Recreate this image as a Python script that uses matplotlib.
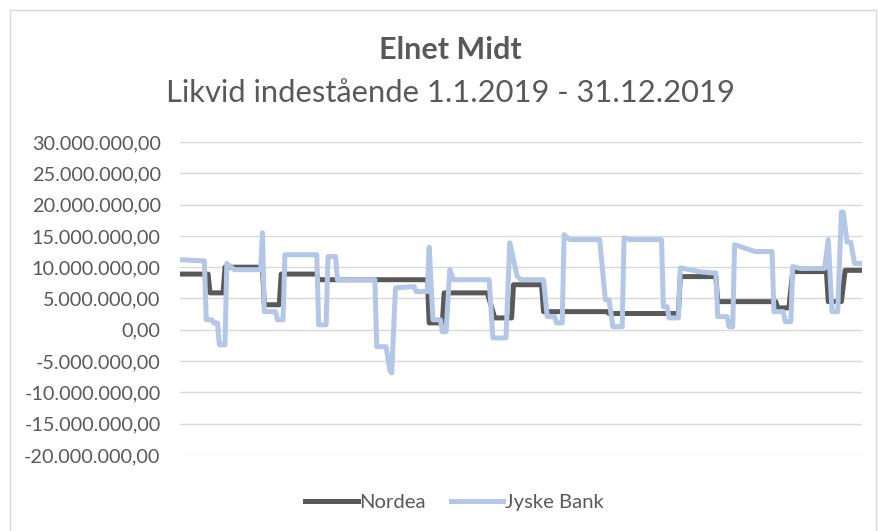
import matplotlib.pyplot as plt
from matplotlib.ticker import FuncFormatter, MultipleLocator
from matplotlib.patches import Rectangle

plt.rcParams['font.family'] = ['Lato', 'DejaVu Sans']

title = "Elnet Midt"
subtitle = "Likvid indestående 1.1.2019 - 31.12.2019"

# day of year, balance in DKK
nordea_day = [0, 15, 16, 23, 24, 44, 45, 53, 54, 73, 74, 132, 133, 140, 141, 164,
              168, 177, 178, 193, 194, 228, 229, 266, 267, 286, 287, 318, 319, 325,
              327, 345, 346, 353, 355, 364]
nordea_val = [8.9, 8.9, 5.9, 5.9, 10.0, 10.0, 4.0, 4.0, 8.9, 8.9, 8.0, 8.0, 1.1, 1.1, 5.9, 5.9,
              1.9, 1.9, 7.2, 7.2, 2.9, 2.9, 2.6, 2.6, 8.5, 8.5, 4.5, 4.5, 3.5, 3.5,
              9.3, 9.3, 4.5, 4.5, 9.5, 9.5]

jyske_day = [0, 13, 14, 17, 18, 20, 21, 24, 25, 29, 43, 44, 45, 51, 52, 55, 56, 73, 74,
             78, 79, 83, 84, 104, 105, 110, 112, 113, 115, 125, 126, 132, 133, 135, 139,
             140, 142, 144, 146, 165, 167, 174, 176, 180, 182, 194, 196, 200, 201, 204,
             205, 208, 224, 227, 229, 231, 236, 237, 240, 257, 258, 260, 261, 266, 267,
             277, 283, 286, 287, 292, 293, 295, 296, 301, 307, 316, 317, 322, 323, 326,
             327, 331, 344, 346, 348, 351, 353, 354, 356, 358, 360, 364]
jyske_val = [11.2, 11.0, 1.6, 1.6, 1.1, 1.1, -2.4, -2.4, 10.6, 9.6, 9.6, 15.5, 2.9, 2.9, 1.6,
             1.6, 12.0, 12.0, 0.8, 0.8, 11.7, 11.7, 8.0, 8.0, -2.7, -2.7, -6.5, -6.9, 6.7,
             6.9, 6.1, 6.1, 13.2, 1.6, 1.6, -0.3, -0.3, 9.6, 8.0, 8.0, -1.3, -1.3, 13.9,
             8.5, 8.0, 8.0, 2.1, 2.1, 1.1, 1.1, 15.2, 14.4, 14.4, 4.8, 4.8, 0.5, 0.5, 14.7,
             14.4, 14.4, 3.7, 3.7, 1.9, 1.9, 9.9, 9.3, 9.1, 9.1, 2.1, 2.1, 0.5, 0.5, 13.6,
             13.1, 12.5, 12.5, 2.9, 2.9, 1.3, 1.3, 10.1, 9.8, 9.8, 14.4, 2.9, 2.9, 18.8,
             18.8, 14.0, 14.0, 10.6, 10.6]

nordea_val = [v * 1e6 for v in nordea_val]
jyske_val = [v * 1e6 for v in jyske_val]

fig = plt.figure(figsize=(8.79, 5.31), dpi=100)
fig.patches.append(Rectangle((10 / 879, -0.01), 866 / 879, 1 - 10 / 531 + 0.01, transform=fig.transFigure,
                             fill=False, edgecolor='#d9d9d9', lw=1))
ax = fig.add_axes([180 / 879, 1 - 455 / 531, 682 / 879, 313 / 531])

ax.plot(nordea_day, nordea_val, color='#595959', lw=3.6, label='Nordea', solid_joinstyle='round')
ax.plot(jyske_day, jyske_val, color='#b4c7e7', lw=3.6, label='Jyske Bank', solid_joinstyle='round')

ax.set_xlim(0, 364)
ax.set_ylim(-20e6, 30e6)
ax.yaxis.set_major_locator(MultipleLocator(5e6))


def dk(v, pos):
    s = f"{v:,.2f}"
    return s.replace(",", "X").replace(".", ",").replace("X", ".")


ax.yaxis.set_major_formatter(FuncFormatter(dk))
ax.grid(axis='y', color='#d9d9d9', lw=1)
ax.set_axisbelow(True)
for s in ax.spines.values():
    s.set_visible(False)
ax.set_xticks([])
ax.tick_params(axis='y', length=0, pad=14, labelsize=14.3, labelcolor='#595959')

fig.text(0.512, 1 - 50 / 531, title, ha='center', va='center', fontsize=22, fontweight='bold',
         color='#595959')
fig.text(0.512, 1 - 93 / 531, subtitle, ha='center', va='center', fontsize=22.2, color='#595959')

leg = fig.legend(loc='center', bbox_to_anchor=(0.517, 1 - 502 / 531), ncol=2, frameon=False,
                 fontsize=14.6, handlelength=2.6, handletextpad=0.1, columnspacing=1.2)
for t in leg.get_texts():
    t.set_color('#595959')

fig.savefig('out.png', dpi=100)
